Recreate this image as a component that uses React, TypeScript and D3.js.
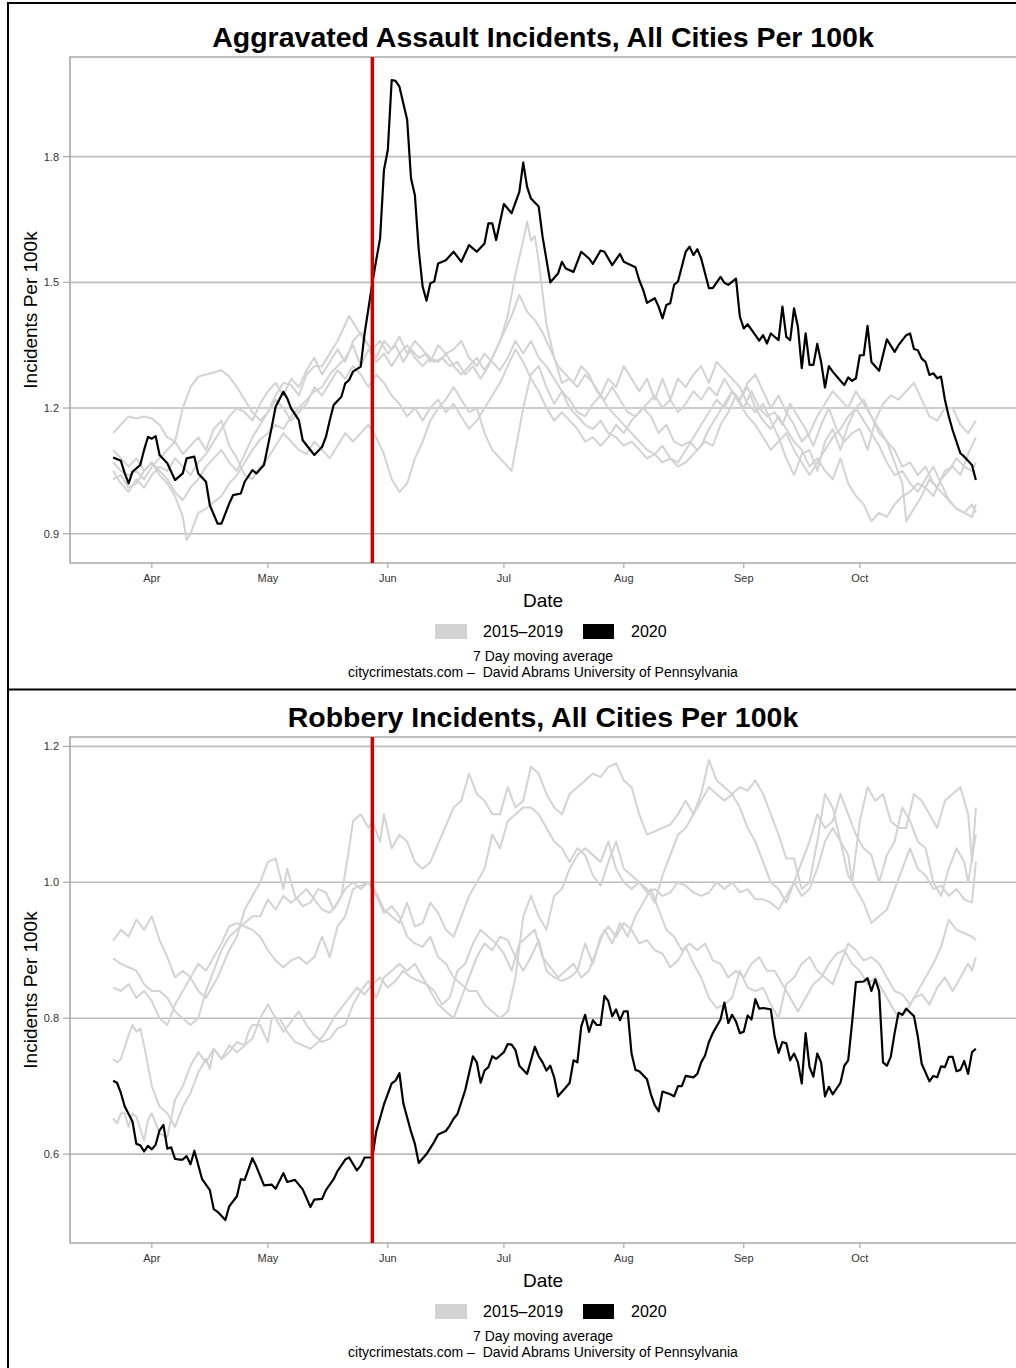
import React, { useRef, useEffect } from 'react';
import * as d3 from 'd3';

// [days since 2020-03-22, incidents per 100k, 7 day moving average]
type Pt = [number, number];

const START = Date.UTC(2020, 2, 22);
const EVENT_DAY = 67; // red marker (May 28)
const monthTicks = ['2020-04-01', '2020-05-01', '2020-06-01', '2020-07-01', '2020-08-01', '2020-09-01', '2020-10-01'];
const assaultTicks = [0.9, 1.2, 1.5, 1.8];
const robberyTicks = [0.6, 0.8, 1.0, 1.2];
const legendLabels = ['2015\u20132019', '2020'];
const captionLines = ['7 Day moving average', 'citycrimestats.com \u2013  David Abrams University of Pennsylvania'];

const assault2020: Pt[] = [
  [0,1.082],[2,1.074],[3,1.044],[4,1.020],[5,1.048],[7,1.064],[8,1.100],[9,1.131],[10,1.127],[11,1.133],[12,1.088],[14,1.068],
  [16,1.028],[18,1.044],[19,1.080],[21,1.084],[22,1.044],[24,1.024],[25,0.968],[27,0.924],[28,0.924],[30,0.972],[31,0.992],
  [33,0.996],[34,1.024],[36,1.052],[37,1.044],[39,1.064],[41,1.155],[42,1.203],[44,1.239],[45,1.223],[46,1.199],[48,1.171],
  [49,1.123],[52,1.088],[54,1.107],[55,1.131],[56,1.171],[57,1.207],[59,1.227],[60,1.259],[61,1.267],[62,1.287],[64,1.299],
  [65,1.378],[67,1.498],[68,1.553],[69,1.605],[70,1.768],[71,1.816],[72,1.983],[73,1.981],[74,1.967],[76,1.888],[77,1.748],
  [78,1.708],[79,1.577],[80,1.490],[81,1.456],[82,1.498],[83,1.502],[84,1.545],[86,1.553],[88,1.573],[90,1.549],[92,1.589],
  [94,1.573],[96,1.593],[97,1.641],[98,1.641],[99,1.601],[101,1.687],[103,1.665],[105,1.716],[106,1.786],[107,1.728],
  [108,1.700],[110,1.681],[111,1.609],[113,1.500],[115,1.521],[116,1.549],[117,1.533],[119,1.525],[121,1.573],[123,1.557],
  [124,1.544],[126,1.576],[127,1.573],[129,1.541],[131,1.568],[132,1.549],[135,1.536],[136,1.505],[137,1.482],[138,1.451],
  [140,1.462],[141,1.442],[142,1.414],[143,1.446],[144,1.450],[145,1.494],[146,1.502],[148,1.573],[149,1.585],[150,1.565],
  [151,1.579],[152,1.557],[154,1.486],[155,1.486],[157,1.513],[158,1.499],[159,1.494],[161,1.509],[162,1.418],[163,1.390],
  [164,1.400],[166,1.374],[167,1.361],[168,1.374],[169,1.354],[170,1.378],[172,1.362],[173,1.442],[174,1.370],[175,1.362],
  [176,1.438],[177,1.394],[178,1.295],[179,1.378],[180,1.303],[181,1.303],[182,1.353],[183,1.310],[184,1.249],[185,1.300],
  [186,1.287],[188,1.265],[189,1.255],[190,1.273],[191,1.265],[192,1.271],[193,1.326],[194,1.326],[195,1.396],[196,1.310],
  [198,1.289],[200,1.364],[202,1.334],[203,1.350],[205,1.374],[206,1.378],[207,1.341],[208,1.338],[209,1.318],[210,1.310],
  [211,1.279],[212,1.283],[213,1.271],[214,1.275],[215,1.220],[216,1.180],[217,1.147],[219,1.092],[220,1.084],[222,1.064],
  [223,1.028],
];

const assaultPastA: Pt[] = [
  [0,1.14],[2,1.16],[4,1.18],[6,1.175],[8,1.18],[10,1.175],[12,1.16],[14,1.13],[16,1.12],[18,1.20],[20,1.25],[22,1.275],
  [24,1.28],[26,1.285],[28,1.29],[30,1.275],[32,1.25],[34,1.22],[36,1.19],[38,1.17],[40,1.19],[42,1.23],[44,1.26],[46,1.255],
  [48,1.23],[50,1.28],[52,1.30],[54,1.30],[56,1.33],[58,1.36],[60,1.40],[61,1.42],[63,1.39],[65,1.36],[67,1.34],[69,1.36],
  [71,1.33],[73,1.35],[75,1.31],[77,1.34],[79,1.32],[81,1.33],[83,1.31],[85,1.32],[87,1.30],[89,1.31],[91,1.28],[93,1.30],
  [95,1.27],[97,1.30],[99,1.34],[101,1.38],[103,1.42],[105,1.47],[107,1.43],[109,1.41],[111,1.38],[113,1.34],[115,1.30],
  [117,1.28],[119,1.26],[121,1.30],[123,1.28],[125,1.24],[127,1.22],[129,1.25],[131,1.22],[133,1.19],[135,1.18],[137,1.20],
  [139,1.18],[141,1.14],[143,1.16],[145,1.12],[147,1.11],[149,1.12],[151,1.10],[153,1.12],[155,1.11],[157,1.16],[159,1.19],
  [161,1.23],[163,1.20],[165,1.24],[167,1.20],[169,1.18],[171,1.19],[173,1.16],[175,1.21],[177,1.18],[179,1.15],[181,1.11],
  [183,1.16],[185,1.20],[187,1.15],[189,1.12],[191,1.14],[193,1.15],[195,1.10],[197,1.17],[199,1.21],[201,1.23],[203,1.22],
  [205,1.24],[207,1.26],[209,1.22],[211,1.18],[213,1.17],[215,1.20],[217,1.20],[219,1.16],[221,1.14],[223,1.17],
];
const assaultPastB: Pt[] = [
  [0,1.10],[2,1.08],[4,1.06],[6,1.08],[8,1.05],[10,1.07],[12,1.04],[14,1.02],[16,0.99],[18,0.94],[19,0.885],[20,0.90],
  [22,0.95],[24,0.96],[26,0.975],[28,0.99],[30,1.02],[32,1.04],[34,1.07],[36,1.10],[38,1.125],[40,1.14],[42,1.16],[44,1.15],
  [46,1.18],[48,1.20],[50,1.22],[52,1.24],[54,1.25],[56,1.28],[58,1.30],[60,1.32],[62,1.35],[64,1.30],[66,1.34],[68,1.31],
  [70,1.33],[72,1.30],[74,1.33],[76,1.35],[78,1.32],[80,1.30],[82,1.32],[84,1.31],[86,1.33],[88,1.30],[90,1.28],[92,1.30],
  [94,1.32],[96,1.29],[98,1.32],[100,1.36],[102,1.42],[104,1.52],[105,1.56],[106,1.60],[107,1.645],[108,1.60],[109,1.61],
  [110,1.55],[112,1.40],[114,1.32],[116,1.26],[118,1.27],[120,1.25],[122,1.28],[124,1.26],[126,1.23],[128,1.27],[130,1.25],
  [132,1.30],[134,1.27],[136,1.24],[138,1.27],[140,1.22],[142,1.27],[144,1.22],[146,1.27],[148,1.25],[150,1.28],[152,1.30],
  [154,1.26],[156,1.31],[158,1.29],[160,1.27],[162,1.25],[164,1.21],[166,1.19],[168,1.21],[170,1.17],[172,1.13],[174,1.08],
  [176,1.04],[178,1.09],[180,1.10],[182,1.05],[184,1.12],[186,1.15],[188,1.10],[190,1.16],[192,1.20],[194,1.22],[196,1.18],
  [198,1.15],[200,1.12],[202,1.10],[204,1.06],[206,1.07],[208,1.04],[210,1.06],[212,1.02],[214,1.00],[216,0.98],[218,0.96],
  [220,0.95],[222,0.94],[223,0.97],
];
const assaultPastC: Pt[] = [
  [0,1.07],[2,1.05],[4,1.04],[6,1.05],[8,1.03],[10,1.06],[12,1.08],[14,1.10],[16,1.12],[18,1.09],[20,1.11],[22,1.13],
  [24,1.10],[26,1.15],[28,1.17],[30,1.11],[32,1.08],[34,1.04],[36,1.03],[38,1.06],[40,1.08],[42,1.11],[44,1.14],[46,1.12],
  [48,1.10],[50,1.09],[52,1.12],[54,1.10],[56,1.08],[58,1.11],[60,1.14],[62,1.12],[64,1.14],[66,1.16],[68,1.13],[70,1.09],
  [72,1.03],[74,1.00],[76,1.02],[78,1.08],[80,1.12],[82,1.17],[84,1.20],[86,1.22],[88,1.25],[90,1.22],[92,1.19],[94,1.20],
  [96,1.14],[98,1.10],[100,1.08],[102,1.06],[103,1.05],[104,1.10],[106,1.20],[108,1.28],[110,1.30],[112,1.25],[114,1.21],
  [116,1.24],[118,1.22],[120,1.19],[122,1.18],[124,1.21],[126,1.23],[128,1.20],[130,1.18],[132,1.16],[134,1.14],[136,1.12],
  [138,1.10],[140,1.09],[142,1.11],[144,1.08],[146,1.07],[148,1.10],[150,1.13],[152,1.16],[154,1.19],[156,1.22],[158,1.20],
  [160,1.24],[162,1.22],[164,1.25],[166,1.20],[168,1.17],[170,1.15],[172,1.18],[174,1.15],[176,1.12],[178,1.10],[180,1.06],
  [182,1.08],[184,1.05],[186,1.03],[188,1.08],[190,1.02],[192,0.99],[194,0.97],[196,0.93],[198,0.95],[200,0.94],[202,0.97],
  [204,0.99],[206,1.00],[208,1.02],[210,1.01],[212,0.99],[214,1.03],[216,1.05],[218,1.08],[220,1.06],[222,1.05],[223,1.07],
];
const assaultPastD: Pt[] = [
  [0,1.05],[2,1.02],[4,1.00],[6,1.03],[8,1.01],[10,1.04],[12,1.06],[14,1.05],[16,1.08],[18,1.06],[20,1.04],[22,1.07],
  [24,1.09],[26,1.12],[28,1.15],[30,1.18],[32,1.20],[34,1.19],[36,1.17],[38,1.21],[40,1.24],[42,1.26],[44,1.23],[46,1.27],
  [48,1.25],[50,1.29],[52,1.32],[54,1.28],[56,1.31],[58,1.34],[60,1.31],[62,1.36],[64,1.38],[66,1.35],[68,1.32],[70,1.36],
  [72,1.34],[74,1.37],[76,1.33],[78,1.36],[80,1.34],[82,1.31],[84,1.35],[86,1.33],[88,1.34],[90,1.36],[92,1.32],[94,1.30],
  [96,1.33],[98,1.31],[100,1.29],[102,1.32],[104,1.36],[106,1.33],[108,1.36],[110,1.32],[112,1.30],[114,1.27],[116,1.24],
  [118,1.20],[120,1.18],[122,1.16],[124,1.15],[126,1.17],[128,1.14],[130,1.13],[132,1.11],[134,1.12],[136,1.10],[138,1.08],
  [140,1.09],[142,1.07],[144,1.08],[146,1.06],[148,1.07],[150,1.09],[152,1.11],[154,1.15],[156,1.18],[158,1.21],[160,1.24],
  [162,1.22],[164,1.26],[166,1.28],[168,1.24],[170,1.20],[172,1.23],[174,1.19],[176,1.16],[178,1.12],[180,1.14],[182,1.18],
  [184,1.21],[186,1.24],[188,1.22],[190,1.20],[192,1.24],[194,1.21],[196,1.18],[198,1.14],[200,1.12],[202,1.07],[204,1.02],
  [205,0.93],[207,0.96],[209,0.99],[211,1.03],[213,1.01],[215,1.05],[217,1.06],[219,1.04],[221,1.09],[223,1.13],
];
const assaultPastE: Pt[] = [
  [0,1.03],[2,1.04],[4,1.01],[6,1.02],[8,1.05],[10,1.07],[12,1.05],[14,1.03],[16,1.00],[18,0.98],[20,1.01],[22,1.03],
  [24,1.06],[26,1.08],[28,1.10],[30,1.07],[32,1.05],[34,1.09],[36,1.13],[38,1.16],[40,1.19],[42,1.22],[44,1.20],[46,1.17],
  [48,1.19],[50,1.21],[52,1.25],[54,1.23],[56,1.26],[58,1.29],[60,1.27],[62,1.30],[64,1.28],[66,1.25],[68,1.28],[70,1.26],
  [72,1.23],[74,1.21],[76,1.18],[78,1.20],[80,1.17],[82,1.20],[84,1.22],[86,1.19],[88,1.21],[90,1.18],[92,1.15],[94,1.17],
  [96,1.20],[98,1.23],[100,1.26],[102,1.30],[104,1.34],[106,1.31],[108,1.27],[110,1.24],[112,1.20],[114,1.17],[116,1.19],
  [118,1.17],[120,1.15],[122,1.12],[124,1.13],[126,1.11],[128,1.13],[130,1.16],[132,1.14],[134,1.17],[136,1.19],[138,1.21],
  [140,1.23],[142,1.20],[144,1.22],[146,1.19],[148,1.21],[150,1.24],[152,1.22],[154,1.25],[156,1.23],[158,1.27],[160,1.24],
  [162,1.21],[164,1.18],[166,1.16],[168,1.13],[170,1.10],[172,1.12],[174,1.14],[176,1.10],[178,1.07],[180,1.04],[182,1.07],
  [184,1.10],[186,1.13],[188,1.15],[190,1.18],[192,1.20],[194,1.17],[196,1.14],[198,1.11],[200,1.07],[202,1.04],[204,1.05],
  [206,1.02],[208,1.00],[210,1.03],[212,1.06],[214,1.02],[216,0.98],[218,0.96],[220,0.95],[222,0.97],[223,0.95],
];

const robbery2020: Pt[] = [
  [0,0.708],[1,0.705],[2,0.690],[3,0.670],[5,0.648],[6,0.615],[7,0.613],[8,0.604],[9,0.612],[10,0.607],[11,0.614],[12,0.635],
  [13,0.643],[14,0.608],[15,0.610],[16,0.593],[17,0.592],[18,0.592],[19,0.597],[20,0.585],[21,0.605],[23,0.563],[25,0.547],
  [26,0.519],[27,0.515],[29,0.503],[30,0.523],[32,0.538],[33,0.563],[34,0.562],[36,0.594],[37,0.582],[39,0.554],[41,0.555],
  [42,0.549],[44,0.572],[45,0.559],[47,0.562],[49,0.548],[51,0.522],[52,0.533],[54,0.534],[55,0.547],[57,0.563],[58,0.575],
  [60,0.592],[61,0.595],[63,0.576],[64,0.583],[65,0.595],[67,0.595],[68,0.633],[70,0.673],[72,0.704],[73,0.708],[74,0.719],
  [75,0.675],[77,0.633],[78,0.615],[79,0.587],[81,0.600],[83,0.618],[84,0.629],[86,0.634],[87,0.642],[88,0.652],[89,0.659],
  [91,0.694],[93,0.744],[94,0.735],[95,0.705],[96,0.723],[97,0.728],[98,0.744],[99,0.740],[101,0.750],[102,0.762],[103,0.761],
  [104,0.753],[105,0.730],[107,0.718],[109,0.758],[110,0.744],[111,0.735],[112,0.723],[113,0.730],[114,0.713],[115,0.685],
  [117,0.698],[118,0.705],[119,0.738],[120,0.735],[121,0.788],[122,0.805],[123,0.780],[124,0.797],[125,0.790],[126,0.790],
  [127,0.833],[128,0.825],[129,0.803],[130,0.813],[131,0.797],[132,0.810],[133,0.810],[134,0.748],[135,0.724],[136,0.722],
  [138,0.710],[139,0.688],[140,0.672],[141,0.663],[142,0.692],[144,0.688],[145,0.685],[146,0.700],[147,0.700],[148,0.715],
  [150,0.713],[151,0.718],[152,0.735],[153,0.745],[154,0.765],[155,0.778],[157,0.798],[158,0.823],[159,0.793],[160,0.805],
  [161,0.795],[162,0.778],[163,0.780],[164,0.804],[165,0.798],[166,0.828],[167,0.814],[168,0.815],[170,0.813],[171,0.773],
  [172,0.749],[173,0.765],[174,0.763],[175,0.738],[176,0.748],[177,0.735],[178,0.704],[179,0.778],[180,0.728],[181,0.714],
  [182,0.748],[183,0.735],[184,0.685],[185,0.699],[186,0.688],[188,0.705],[189,0.730],[190,0.738],[191,0.793],[192,0.853],
  [194,0.854],[195,0.859],[196,0.840],[197,0.857],[198,0.840],[199,0.735],[200,0.730],[201,0.743],[202,0.778],[203,0.808],
  [204,0.805],[205,0.814],[207,0.803],[208,0.773],[209,0.733],[211,0.707],[212,0.715],[213,0.713],[214,0.729],[215,0.728],
  [216,0.743],[217,0.743],[218,0.722],[219,0.724],[220,0.737],[221,0.718],[222,0.750],[223,0.755],
];

const robberyPastA: Pt[] = [
  [0,0.914],[2,0.93],[4,0.92],[6,0.945],[8,0.93],[10,0.95],[12,0.915],[14,0.89],[16,0.86],[18,0.87],[20,0.86],[22,0.84],
  [24,0.83],[27,0.86],[30,0.90],[32,0.92],[34,0.96],[36,0.98],[38,1.00],[40,1.03],[42,1.035],[44,0.99],[45,1.02],[47,0.98],
  [49,0.965],[51,0.97],[53,0.99],[55,0.985],[57,0.96],[59,0.98],[61,1.05],[62,1.09],[64,1.10],[66,1.08],[67,1.09],[69,1.06],
  [70,1.10],[72,1.05],[74,1.07],[76,1.06],[78,1.03],[80,1.02],[82,1.03],[85,1.07],[88,1.11],[90,1.12],[92,1.16],[94,1.13],
  [96,1.12],[98,1.10],[100,1.10],[102,1.14],[104,1.11],[106,1.12],[108,1.17],[110,1.16],[112,1.13],[114,1.11],[116,1.10],
  [118,1.13],[120,1.14],[122,1.15],[124,1.16],[126,1.155],[128,1.17],[130,1.175],[132,1.15],[134,1.14],[136,1.10],[138,1.07],
  [140,1.075],[142,1.08],[144,1.085],[146,1.10],[148,1.12],[150,1.10],[152,1.13],[154,1.18],[156,1.15],[158,1.14],[160,1.13],
  [162,1.14],[164,1.135],[166,1.15],[168,1.13],[170,1.10],[172,1.07],[174,1.035],[176,1.035],[178,0.99],[180,1.00],[182,1.06],
  [184,1.13],[186,1.11],[188,1.06],[190,1.04],[191,1.00],[193,1.09],[195,1.14],[197,1.12],[199,1.13],[201,1.09],[203,1.08],
  [205,1.08],[207,1.13],[209,1.12],[211,1.10],[213,1.08],[215,1.12],[217,1.13],[219,1.14],[221,1.10],[222,1.03],[223,1.11],
];
const robberyPastB: Pt[] = [
  [0,0.888],[2,0.88],[4,0.875],[6,0.87],[8,0.85],[10,0.84],[12,0.84],[14,0.83],[16,0.81],[18,0.80],[20,0.79],[22,0.80],
  [24,0.84],[26,0.87],[28,0.90],[30,0.92],[32,0.93],[34,0.94],[36,0.95],[38,0.95],[40,0.975],[42,0.96],[44,0.98],[46,0.97],
  [48,0.98],[50,0.99],[52,0.975],[54,0.96],[56,0.955],[58,0.97],[60,0.99],[62,1.00],[64,0.99],[66,1.00],[68,0.985],[70,0.96],
  [72,0.95],[74,0.94],[76,0.97],[78,0.935],[80,0.94],[82,0.97],[84,0.955],[86,0.93],[88,0.92],[90,0.95],[92,0.98],[94,1.00],
  [96,1.02],[98,1.07],[100,1.05],[102,1.09],[104,1.10],[106,1.11],[108,1.11],[110,1.10],[112,1.08],[114,1.06],[116,1.05],
  [118,1.03],[120,1.05],[122,1.04],[124,1.01],[126,0.995],[128,1.03],[130,1.06],[132,1.02],[134,1.01],[136,1.00],[138,0.99],
  [140,0.97],[142,1.01],[144,1.04],[146,1.07],[148,1.08],[150,1.10],[152,1.12],[154,1.14],[156,1.13],[158,1.12],[160,1.13],
  [162,1.11],[164,1.08],[166,1.06],[168,1.03],[170,1.00],[172,0.99],[174,0.97],[176,1.00],[178,1.03],[180,1.06],[182,1.10],
  [184,1.08],[186,1.09],[188,1.13],[190,1.10],[192,1.07],[194,1.05],[196,1.04],[198,1.00],[200,1.04],[202,1.06],[204,1.11],
  [206,1.09],[208,1.06],[210,1.05],[212,1.00],[214,0.98],[216,1.02],[218,1.05],[220,1.03],[221,1.00],[223,1.07],
];
const robberyPastC: Pt[] = [
  [0,0.845],[2,0.84],[4,0.85],[6,0.83],[8,0.84],[10,0.825],[12,0.80],[14,0.79],[16,0.82],[18,0.84],[20,0.86],[22,0.88],
  [24,0.87],[26,0.89],[28,0.91],[30,0.935],[32,0.94],[34,0.935],[36,0.93],[38,0.92],[40,0.90],[42,0.885],[44,0.875],[46,0.885],
  [48,0.89],[50,0.88],[52,0.89],[54,0.92],[56,0.89],[58,0.935],[60,0.95],[62,0.99],[64,0.995],[66,1.00],[68,0.98],[70,0.955],
  [72,0.965],[74,0.95],[76,0.92],[78,0.91],[80,0.905],[82,0.92],[84,0.89],[86,0.88],[88,0.86],[90,0.85],[92,0.84],[94,0.84],
  [96,0.82],[98,0.81],[100,0.80],[102,0.81],[104,0.86],[106,0.95],[108,0.98],[110,0.95],[112,0.93],[114,0.98],[116,0.99],
  [118,1.02],[120,1.04],[122,1.05],[124,1.04],[126,1.03],[128,1.06],[130,1.02],[132,1.00],[134,0.99],[136,1.00],[138,0.985],
  [140,0.99],[142,0.98],[144,0.985],[146,1.00],[148,0.995],[150,0.985],[152,0.98],[154,0.985],[156,1.00],[158,0.99],[160,1.00],
  [162,0.985],[164,0.99],[166,0.975],[168,0.975],[170,0.97],[172,0.96],[174,0.98],[176,1.00],[178,0.98],[180,0.99],[182,1.02],
  [184,1.06],[186,1.08],[188,1.06],[190,1.01],[192,0.99],[194,0.97],[196,0.94],[198,0.95],[200,0.96],[202,0.99],[204,1.02],
  [206,1.05],[208,1.02],[210,1.01],[212,0.99],[214,0.995],[216,0.98],[218,0.99],[220,0.975],[222,0.97],[223,1.03],
];
const robberyPastD: Pt[] = [
  [0,0.74],[1,0.735],[2,0.74],[4,0.775],[5,0.79],[6,0.78],[7,0.785],[8,0.76],[10,0.70],[12,0.67],[14,0.66],[16,0.64],
  [17,0.655],[18,0.67],[20,0.69],[22,0.72],[24,0.74],[25,0.725],[26,0.755],[28,0.74],[30,0.76],[32,0.75],[34,0.76],[36,0.77],
  [38,0.80],[40,0.82],[42,0.80],[44,0.78],[46,0.795],[48,0.81],[50,0.79],[52,0.775],[54,0.765],[56,0.77],[58,0.785],[60,0.79],
  [62,0.82],[64,0.84],[66,0.855],[68,0.83],[70,0.86],[72,0.87],[74,0.88],[76,0.87],[78,0.88],[80,0.86],[82,0.84],[84,0.82],
  [86,0.81],[88,0.80],[90,0.83],[92,0.86],[94,0.89],[96,0.91],[98,0.90],[100,0.92],[102,0.915],[104,0.89],[106,0.87],
  [108,0.89],[110,0.915],[112,0.87],[114,0.86],[116,0.855],[118,0.86],[120,0.87],[122,0.91],[124,0.88],[126,0.92],[128,0.935],
  [130,0.92],[132,0.94],[134,0.93],[136,0.91],[138,0.915],[140,0.90],[142,0.895],[144,0.875],[146,0.885],[148,0.905],[150,0.88],
  [152,0.86],[154,0.83],[156,0.815],[158,0.82],[160,0.83],[162,0.87],[164,0.845],[166,0.84],[168,0.845],[170,0.82],[172,0.80],
  [174,0.85],[176,0.86],[178,0.88],[180,0.89],[182,0.87],[184,0.86],[186,0.85],[188,0.88],[190,0.91],[192,0.90],[194,0.885],
  [196,0.89],[198,0.88],[200,0.86],[202,0.84],[204,0.835],[206,0.82],[208,0.84],[210,0.86],[212,0.88],[214,0.905],[216,0.945],
  [218,0.93],[220,0.925],[222,0.92],[223,0.915],
];
const robberyPastE: Pt[] = [
  [0,0.653],[1,0.645],[2,0.66],[3,0.66],[4,0.64],[5,0.66],[6,0.655],[8,0.62],[9,0.65],[10,0.66],[12,0.63],[14,0.625],
  [16,0.68],[18,0.70],[20,0.73],[22,0.75],[24,0.735],[26,0.755],[28,0.74],[30,0.75],[32,0.765],[34,0.76],[35,0.78],[36,0.79],
  [38,0.79],[40,0.765],[41,0.80],[43,0.80],[45,0.78],[47,0.765],[49,0.76],[51,0.755],[53,0.765],[55,0.78],[57,0.80],[59,0.815],
  [61,0.83],[63,0.845],[65,0.835],[67,0.85],[69,0.86],[71,0.845],[73,0.855],[75,0.87],[77,0.86],[79,0.855],[81,0.85],[83,0.84],
  [85,0.82],[87,0.83],[89,0.87],[91,0.88],[93,0.91],[95,0.93],[97,0.92],[99,0.91],[101,0.895],[103,0.87],[105,0.91],[107,0.92],
  [109,0.93],[111,0.89],[113,0.875],[115,0.86],[117,0.87],[119,0.88],[121,0.86],[123,0.87],[125,0.90],[127,0.93],[129,0.91],
  [131,0.94],[133,0.92],[135,0.95],[137,0.97],[139,0.99],[141,0.96],[143,0.93],[145,0.92],[147,0.90],[149,0.91],[151,0.90],
  [153,0.91],[155,0.885],[157,0.88],[159,0.86],[161,0.87],[163,0.86],[165,0.88],[167,0.89],[169,0.87],[171,0.87],[173,0.85],
  [175,0.83],[177,0.81],[179,0.83],[181,0.85],[183,0.86],[185,0.88],[187,0.895],[189,0.90],[191,0.88],[193,0.87],[195,0.85],
  [197,0.86],[199,0.84],[201,0.82],[203,0.80],[205,0.81],[207,0.83],[209,0.835],[211,0.82],[213,0.845],[215,0.86],[217,0.84],
  [219,0.86],[221,0.88],[222,0.87],[223,0.89],
];

const assaultPast = [assaultPastA, assaultPastB, assaultPastC, assaultPastD, assaultPastE];
const robberyPast = [robberyPastA, robberyPastB, robberyPastC, robberyPastD, robberyPastE];

const FONT = "'Liberation Sans', Arial, Helvetica, sans-serif";
const WIDTH = 1016;
const HEIGHT = 1368;

const toDate = (d: number) => new Date(START + d * 864e5);

function drawPanel(
  svg: d3.Selection<SVGSVGElement, unknown, null, undefined>,
  top: number,
  title: string,
  past: Pt[][],
  current: Pt[],
  yTicks: number[]
) {
  const left = 70, right = 1019, plotTop = 57, plotBottom = 563;
  const centerX = 543;
  const colors = { past: '#d3d3d3', current: '#000000', event: '#d10000', grid: '#bdbdbd', frame: '#a9a9a9', text: '#333333' };

  const g = svg.append('g').attr('transform', `translate(0,${top})`);

  // ggplot-like 5% expansion of the data range
  const all = past.flat().concat(current);
  const [d0, d1] = d3.extent(all, d => d[0]) as [number, number];
  const [v0, v1] = d3.extent(all, d => d[1]) as [number, number];
  const dx = (d1 - d0) * 0.05;
  const dy = (v1 - v0) * 0.05;

  const x = d3.scaleUtc().domain([toDate(d0 - dx), toDate(d1 + dx)]).range([left, right]);
  const y = d3.scaleLinear().domain([v0 - dy, v1 + dy]).range([plotBottom, plotTop]);

  // title
  g.append('text')
    .attr('x', centerX).attr('y', 47)
    .attr('text-anchor', 'middle')
    .attr('font-family', FONT).attr('font-weight', 'bold').attr('font-size', 28.5)
    .attr('fill', '#000')
    .text(title);

  // gridlines + y ticks
  yTicks.forEach(t => {
    g.append('line')
      .attr('x1', left).attr('x2', right).attr('y1', y(t)).attr('y2', y(t))
      .attr('stroke', colors.grid).attr('stroke-width', 1.6);
    g.append('line')
      .attr('x1', left - 7).attr('x2', left).attr('y1', y(t)).attr('y2', y(t))
      .attr('stroke', colors.frame).attr('stroke-width', 1.2);
    g.append('text')
      .attr('x', left - 11).attr('y', y(t) + 4)
      .attr('text-anchor', 'end')
      .attr('font-family', FONT).attr('font-size', 11)
      .attr('fill', colors.text)
      .text(d3.format('.1f')(t));
  });

  // panel frame
  g.append('path')
    .attr('d', `M${right},${plotTop}H${left}V${plotBottom}H${right}`)
    .attr('fill', 'none').attr('stroke', colors.frame).attr('stroke-width', 1.6);

  // x ticks
  monthTicks.forEach(m => {
    const xm = x(new Date(m + 'T00:00:00Z'));
    g.append('line')
      .attr('x1', xm).attr('x2', xm).attr('y1', plotBottom).attr('y2', plotBottom + 5)
      .attr('stroke', colors.frame).attr('stroke-width', 1.2);
    g.append('text')
      .attr('x', xm).attr('y', plotBottom + 19)
      .attr('text-anchor', 'middle')
      .attr('font-family', FONT).attr('font-size', 11)
      .attr('fill', colors.text)
      .text(d3.utcFormat('%b')(new Date(m + 'T00:00:00Z')));
  });

  const line = d3.line<Pt>()
    .x(d => x(toDate(d[0])))
    .y(d => y(d[1]));

  past.forEach(s => {
    g.append('path')
      .attr('d', line(s) as string)
      .attr('fill', 'none')
      .attr('stroke', colors.past)
      .attr('stroke-width', 2)
      .attr('stroke-linejoin', 'round');
  });

  g.append('path')
    .attr('d', line(current) as string)
    .attr('fill', 'none')
    .attr('stroke', colors.current)
    .attr('stroke-width', 2.2)
    .attr('stroke-linejoin', 'round');

  const xe = x(toDate(EVENT_DAY));
  g.append('line')
    .attr('x1', xe).attr('x2', xe).attr('y1', plotTop).attr('y2', plotBottom)
    .attr('stroke', colors.event).attr('stroke-width', 3.5);

  // axis titles
  g.append('text')
    .attr('x', centerX).attr('y', 607)
    .attr('text-anchor', 'middle')
    .attr('font-family', FONT).attr('font-size', 19)
    .attr('fill', '#000')
    .text('Date');
  g.append('text')
    .attr('transform', `translate(37,${(plotTop + plotBottom) / 2}) rotate(-90)`)
    .attr('text-anchor', 'middle')
    .attr('font-family', FONT).attr('font-size', 19)
    .attr('fill', '#000')
    .text('Incidents Per 100k');

  // legend
  const keys = [
    { x: 435, w: 32, color: colors.past, tx: 483 },
    { x: 583, w: 31, color: colors.current, tx: 631 },
  ];
  keys.forEach((k, i) => {
    g.append('rect')
      .attr('x', k.x).attr('y', 624).attr('width', k.w).attr('height', 15)
      .attr('fill', k.color);
    g.append('text')
      .attr('x', k.tx).attr('y', 637)
      .attr('font-family', FONT).attr('font-size', 16)
      .attr('fill', '#000')
      .text(legendLabels[i]);
  });

  // caption
  captionLines.forEach((c, i) => {
    g.append('text')
      .attr('x', centerX).attr('y', 661 + i * 16)
      .attr('text-anchor', 'middle')
      .attr('font-family', FONT).attr('font-size', 14)
      .attr('fill', '#000')
      .style('white-space', 'pre')
      .text(c);
  });
}

const App: React.FC = () => {
  const svgRef = useRef<SVGSVGElement | null>(null);

  useEffect(() => {
    if (!svgRef.current) return;
    const svg = d3.select(svgRef.current);
    svg.selectAll('*').remove();

    svg.append('rect').attr('width', WIDTH).attr('height', HEIGHT).attr('fill', '#fff');

    drawPanel(svg, 0, 'Aggravated Assault Incidents, All Cities Per 100k', assaultPast, assault2020, assaultTicks);
    drawPanel(svg, 680, 'Robbery Incidents, All Cities Per 100k', robberyPast, robbery2020, robberyTicks);

    // outer frames
    svg.append('path')
      .attr('d', `M${WIDTH},3H8V${HEIGHT}M8,689.5H${WIDTH}`)
      .attr('fill', 'none').attr('stroke', '#000').attr('stroke-width', 2);
  }, []);

  return (
    <svg
      ref={svgRef}
      width={WIDTH}
      height={HEIGHT}
      style={{ position: 'absolute', left: 0, top: 0, display: 'block' }}
    />
  );
};

export default App;
